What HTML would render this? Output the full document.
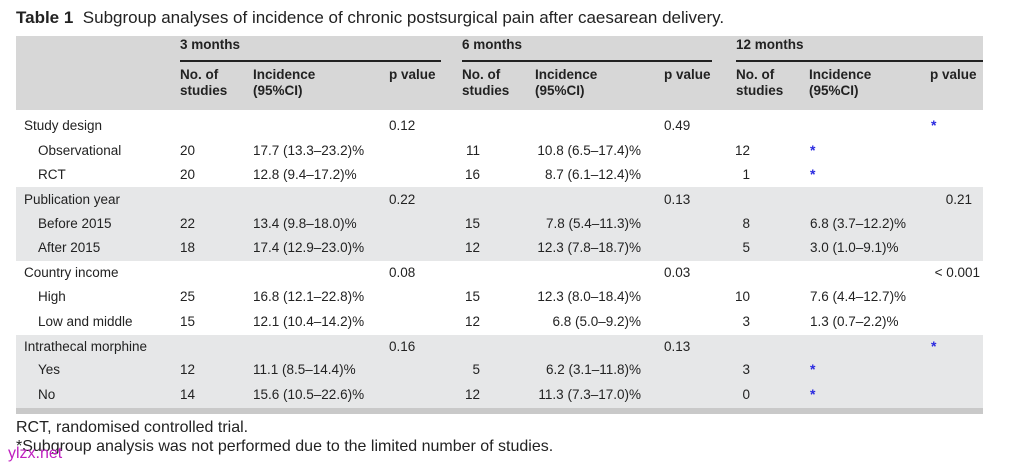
<!DOCTYPE html>
<html><head><meta charset="utf-8"><style>
body{margin:0;width:1027px;height:471px;background:#fff;font-family:"Liberation Sans",sans-serif;color:#222;position:relative;overflow:hidden}
.a{position:absolute;white-space:nowrap;font-size:13.5px;line-height:16px}
.b{font-weight:bold}
.r{text-align:right}
.s{color:#2a2ae0;font-size:14px;font-weight:bold}
.band{position:absolute;left:16px;width:967px}
.ln{position:absolute;height:2px;background:#222;top:60px}
</style></head><body>
<div class="a" style="left:16px;top:7px;font-size:17px;line-height:21px"><b>Table 1</b>&nbsp; Subgroup analyses of incidence of chronic postsurgical pain after caesarean delivery.</div>
<div class="band" style="top:36px;height:74px;background:#d7d7d7"></div>
<div class="band" style="top:187px;height:74px;background:#e6e7e8"></div>
<div class="band" style="top:335px;height:73px;background:#e6e7e8"></div>
<div class="band" style="top:408px;height:6px;background:#c9c9c9"></div>
<div class="ln" style="left:180px;width:261px"></div>
<div class="ln" style="left:462px;width:250px"></div>
<div class="ln" style="left:736px;width:247px"></div>
<div class="a b" style="left:180px;top:37px">3 months</div>
<div class="a b" style="left:462px;top:37px">6 months</div>
<div class="a b" style="left:736px;top:37px">12 months</div>
<div class="a b" style="left:180px;top:67px">No. of<br>studies</div>
<div class="a b" style="left:253px;top:67px">Incidence<br>(95%CI)</div>
<div class="a b" style="left:389px;top:67px">p value</div>
<div class="a b" style="left:462px;top:67px">No. of<br>studies</div>
<div class="a b" style="left:535px;top:67px">Incidence<br>(95%CI)</div>
<div class="a b" style="left:664px;top:67px">p value</div>
<div class="a b" style="left:736px;top:67px">No. of<br>studies</div>
<div class="a b" style="left:809px;top:67px">Incidence<br>(95%CI)</div>
<div class="a b" style="left:930px;top:67px">p value</div>

<div class="a" style="left:24px;top:118px">Study design</div>
<div class="a" style="left:389px;top:118px">0.12</div>
<div class="a" style="left:664px;top:118px">0.49</div>
<div class="a s" style="left:931px;top:117px">*</div>

<div class="a" style="left:38px;top:143px">Observational</div>
<div class="a" style="left:180px;top:143px">20</div>
<div class="a" style="left:253px;top:143px">17.7 (13.3–23.2)%</div>
<div class="a r" style="left:430px;width:50px;top:143px">11</div>
<div class="a r" style="left:500px;width:141px;top:143px">10.8 (6.5–17.4)%</div>
<div class="a r" style="left:700px;width:50px;top:143px">12</div>
<div class="a s" style="left:810px;top:142px">*</div>

<div class="a" style="left:38px;top:167px">RCT</div>
<div class="a" style="left:180px;top:167px">20</div>
<div class="a" style="left:253px;top:167px">12.8 (9.4–17.2)%</div>
<div class="a r" style="left:430px;width:50px;top:167px">16</div>
<div class="a r" style="left:500px;width:141px;top:167px">8.7 (6.1–12.4)%</div>
<div class="a r" style="left:700px;width:50px;top:167px">1</div>
<div class="a s" style="left:810px;top:166px">*</div>

<div class="a" style="left:24px;top:192px">Publication year</div>
<div class="a" style="left:389px;top:192px">0.22</div>
<div class="a" style="left:664px;top:192px">0.13</div>
<div class="a r" style="left:900px;width:72px;top:192px">0.21</div>

<div class="a" style="left:38px;top:216px">Before 2015</div>
<div class="a" style="left:180px;top:216px">22</div>
<div class="a" style="left:253px;top:216px">13.4 (9.8–18.0)%</div>
<div class="a r" style="left:430px;width:50px;top:216px">15</div>
<div class="a r" style="left:500px;width:141px;top:216px">7.8 (5.4–11.3)%</div>
<div class="a r" style="left:700px;width:50px;top:216px">8</div>
<div class="a" style="left:810px;top:216px">6.8 (3.7–12.2)%</div>

<div class="a" style="left:38px;top:240px">After 2015</div>
<div class="a" style="left:180px;top:240px">18</div>
<div class="a" style="left:253px;top:240px">17.4 (12.9–23.0)%</div>
<div class="a r" style="left:430px;width:50px;top:240px">12</div>
<div class="a r" style="left:500px;width:141px;top:240px">12.3 (7.8–18.7)%</div>
<div class="a r" style="left:700px;width:50px;top:240px">5</div>
<div class="a" style="left:810px;top:240px">3.0 (1.0–9.1)%</div>

<div class="a" style="left:24px;top:265px">Country income</div>
<div class="a" style="left:389px;top:265px">0.08</div>
<div class="a" style="left:664px;top:265px">0.03</div>
<div class="a r" style="left:900px;width:80px;top:265px">&lt; 0.001</div>

<div class="a" style="left:38px;top:289px">High</div>
<div class="a" style="left:180px;top:289px">25</div>
<div class="a" style="left:253px;top:289px">16.8 (12.1–22.8)%</div>
<div class="a r" style="left:430px;width:50px;top:289px">15</div>
<div class="a r" style="left:500px;width:141px;top:289px">12.3 (8.0–18.4)%</div>
<div class="a r" style="left:700px;width:50px;top:289px">10</div>
<div class="a" style="left:810px;top:289px">7.6 (4.4–12.7)%</div>

<div class="a" style="left:38px;top:314px">Low and middle</div>
<div class="a" style="left:180px;top:314px">15</div>
<div class="a" style="left:253px;top:314px">12.1 (10.4–14.2)%</div>
<div class="a r" style="left:430px;width:50px;top:314px">12</div>
<div class="a r" style="left:500px;width:141px;top:314px">6.8 (5.0–9.2)%</div>
<div class="a r" style="left:700px;width:50px;top:314px">3</div>
<div class="a" style="left:810px;top:314px">1.3 (0.7–2.2)%</div>

<div class="a" style="left:24px;top:339px">Intrathecal morphine</div>
<div class="a" style="left:389px;top:339px">0.16</div>
<div class="a" style="left:664px;top:339px">0.13</div>
<div class="a s" style="left:931px;top:338px">*</div>

<div class="a" style="left:38px;top:362px">Yes</div>
<div class="a" style="left:180px;top:362px">12</div>
<div class="a" style="left:253px;top:362px">11.1 (8.5–14.4)%</div>
<div class="a r" style="left:430px;width:50px;top:362px">5</div>
<div class="a r" style="left:500px;width:141px;top:362px">6.2 (3.1–11.8)%</div>
<div class="a r" style="left:700px;width:50px;top:362px">3</div>
<div class="a s" style="left:810px;top:361px">*</div>

<div class="a" style="left:38px;top:387px">No</div>
<div class="a" style="left:180px;top:387px">14</div>
<div class="a" style="left:253px;top:387px">15.6 (10.5–22.6)%</div>
<div class="a r" style="left:430px;width:50px;top:387px">12</div>
<div class="a r" style="left:500px;width:141px;top:387px">11.3 (7.3–17.0)%</div>
<div class="a r" style="left:700px;width:50px;top:387px">0</div>
<div class="a s" style="left:810px;top:386px">*</div>

<div class="a" style="left:16px;top:419px;font-size:16px;line-height:18px">RCT, randomised controlled trial.</div>
<div class="a" style="left:16px;top:438px;font-size:16px;line-height:18px">*Subgroup analysis was not performed due to the limited number of studies.</div>
<div class="a" style="left:8px;top:446px;font-size:16px;color:#c020c0">ylzx.net</div>
</body></html>
